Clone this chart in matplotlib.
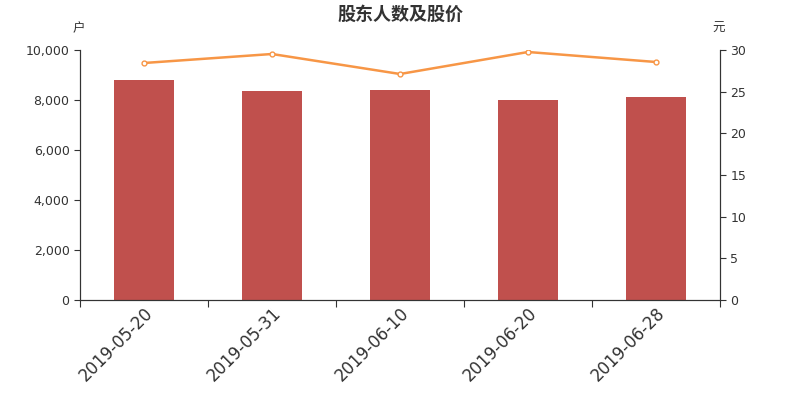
import matplotlib
matplotlib.use('Agg')
import matplotlib.pyplot as plt
import numpy as np

plt.rcParams['font.family'] = ['DejaVu Sans', 'Noto Sans CJK SC']

# Data
dates = ['2019-05-20', '2019-05-31', '2019-06-10', '2019-06-20', '2019-06-28']
holders = [8800, 8360, 8400, 8000, 8120]
price = [28.44, 29.52, 27.12, 29.76, 28.56]

fig = plt.figure(figsize=(8, 4), dpi=100)
ax = fig.add_axes([0.1, 0.25, 0.8, 0.625])
x = np.arange(len(dates))

# Bars for number of shareholders
ax.bar(x, holders, width=0.47, color='#c0504d', zorder=2)
ax.set_xlim(-0.5, len(dates) - 0.5)
ax.set_ylim(0, 10000)
ax.set_yticks(np.arange(0, 10001, 2000))
ax.set_yticklabels([f'{v:,}' for v in range(0, 10001, 2000)], fontsize=9, color='#333333')

# Category ticks between bars, labels centred under bars
ax.set_xticks(np.arange(-0.5, len(dates), 1))
ax.set_xticklabels([])
ax.set_xticks(x, minor=True)
ax.set_xticklabels(dates, minor=True, rotation=45, ha='right', rotation_mode='anchor',
                   fontsize=12, color='#333333')
ax.tick_params(axis='x', which='minor', length=0, pad=3)
ax.tick_params(axis='x', which='major', length=5, color='#333333')
ax.tick_params(axis='y', length=4, color='#333333')

ax.spines['top'].set_visible(False)
for s in ['left', 'bottom', 'right']:
    ax.spines[s].set_color('#333333')

# Price line on the right axis
ax2 = ax.twinx()
ax2.plot(x, price, '-o', color='#f79646', lw=1.8, markersize=3.5,
         markerfacecolor='white', markeredgecolor='#f79646', markeredgewidth=1, zorder=3)
ax2.set_ylim(0, 30)
ax2.set_yticks(np.arange(0, 31, 5))
ax2.tick_params(axis='y', length=4, color='#333333', labelsize=9, labelcolor='#333333')
ax2.spines['top'].set_visible(False)
for s in ['left', 'bottom', 'right']:
    ax2.spines[s].set_color('#333333')

# Titles and unit labels
fig.text(0.5, 0.965, '股东人数及股价', ha='center', va='center', fontsize=13,
         fontweight='bold', color='#333333', family=['Noto Sans CJK SC'])
fig.text(0.098, 0.928, '户', ha='center', va='center', fontsize=9, color='#333333',
         family=['Noto Sans CJK SC'])
fig.text(0.898, 0.928, '元', ha='center', va='center', fontsize=9, color='#333333',
         family=['Noto Sans CJK SC'])

fig.savefig('out.png', dpi=100)
